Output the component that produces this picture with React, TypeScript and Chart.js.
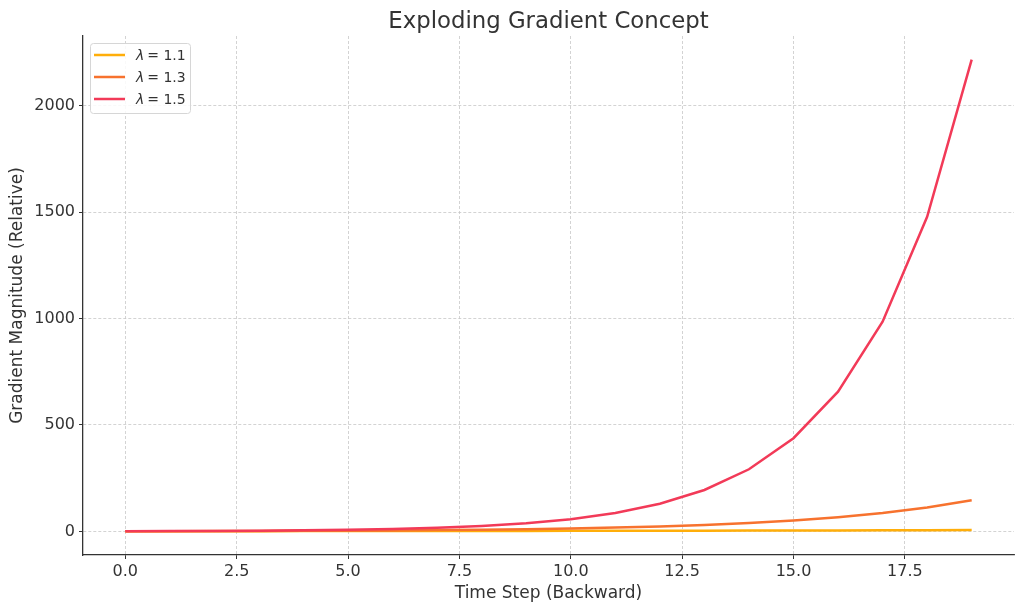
import React, { useEffect, useRef } from "react";
import { Chart, registerables } from "chart.js";

Chart.register(...registerables);

const timeSteps = [0, 1, 2, 3, 4, 5, 6, 7, 8, 9, 10, 11, 12, 13, 14, 15, 16, 17, 18, 19];
const lambda11 = [1, 1.1, 1.21, 1.33, 1.46, 1.61, 1.77, 1.95, 2.14, 2.36, 2.59, 2.85, 3.14, 3.45, 3.8, 4.18, 4.59, 5.05, 5.56, 6.12];
const lambda13 = [1, 1.3, 1.69, 2.2, 2.86, 3.71, 4.83, 6.27, 8.16, 10.6, 13.79, 17.92, 23.3, 30.29, 39.37, 51.19, 66.54, 86.5, 112.46, 146.19];
const lambda15 = [1, 1.5, 2.25, 3.38, 5.06, 7.59, 11.39, 17.09, 25.63, 38.44, 57.67, 86.5, 129.75, 194.62, 291.93, 437.89, 656.84, 985.26, 1477.89, 2216.84];
const seriesLabels = ["1.1", "1.3", "1.5"];
const seriesColors = ["#FFAE0A", "#F7722E", "#F23A58"];
const xTickValues = [0, 2.5, 5, 7.5, 10, 12.5, 15, 17.5];
const yTickValues = [0, 500, 1000, 1500, 2000];
const titleText = "Exploding Gradient Concept";
const xTitle = "Time Step (Backward)";
const yTitle = "Gradient Magnitude (Relative)";

const FONT = "'DejaVu Sans', sans-serif";
const TEXT = "#333333";

const overlayPlugin = {
  id: "overlay",
  afterDraw(chart: any) {
    const ctx = chart.ctx;
    const area = chart.chartArea;
    ctx.save();
    // title
    ctx.fillStyle = TEXT;
    ctx.font = `22.8px ${FONT}`;
    ctx.textAlign = "center";
    ctx.textBaseline = "alphabetic";
    ctx.fillText(titleText, (area.left + area.right) / 2, 28);
    // legend
    const bx = 90.5, by = 43.5, bw = 100, bh = 70, r = 3;
    ctx.beginPath();
    ctx.moveTo(bx + r, by);
    ctx.lineTo(bx + bw - r, by);
    ctx.quadraticCurveTo(bx + bw, by, bx + bw, by + r);
    ctx.lineTo(bx + bw, by + bh - r);
    ctx.quadraticCurveTo(bx + bw, by + bh, bx + bw - r, by + bh);
    ctx.lineTo(bx + r, by + bh);
    ctx.quadraticCurveTo(bx, by + bh, bx, by + bh - r);
    ctx.lineTo(bx, by + r);
    ctx.quadraticCurveTo(bx, by, bx + r, by);
    ctx.closePath();
    ctx.fillStyle = "rgba(255,255,255,0.85)";
    ctx.fill();
    ctx.strokeStyle = "#d6d6d6";
    ctx.lineWidth = 1;
    ctx.stroke();
    seriesLabels.forEach((lab, i) => {
      const y = 55 + i * 22;
      ctx.strokeStyle = seriesColors[i];
      ctx.lineWidth = 2.5;
      ctx.beginPath();
      ctx.moveTo(94, y);
      ctx.lineTo(125, y);
      ctx.stroke();
      ctx.fillStyle = TEXT;
      ctx.textAlign = "left";
      ctx.textBaseline = "middle";
      ctx.font = `italic 14px ${FONT}`;
      ctx.fillText("λ", 136, y + 1);
      const w = ctx.measureText("λ").width;
      ctx.font = `14px ${FONT}`;
      ctx.fillText("= " + lab, 136 + w + 3, y + 1);
    });
    ctx.restore();
  },
};

const gridOpts = {
  color: "#c8c8c8",
  lineWidth: 0.8,
  drawTicks: true,
  tickLength: 4,
  tickColor: "#333",
  tickWidth: 1,
  tickBorderDash: [],
};

export default function App() {
  const ref = useRef<HTMLCanvasElement | null>(null);
  useEffect(() => {
    document.body.style.margin = "0";
    const canvas = ref.current!;
    const makeData = (arr: number[]) => arr.map((v, i) => ({ x: timeSteps[i], y: v }));
    const sets = [lambda11, lambda13, lambda15];
    const chart = new Chart(canvas, {
      type: "line",
      data: {
        datasets: sets.map((arr, i) => ({
          label: "λ = " + seriesLabels[i],
          data: makeData(arr),
          borderColor: seriesColors[i],
          backgroundColor: seriesColors[i],
          borderWidth: 2.5,
          pointRadius: 0,
          tension: 0,
          order: 3 - i,
        })),
      },
      options: {
        animation: false,
        responsive: false,
        maintainAspectRatio: false,
        devicePixelRatio: 1,
        layout: { padding: { top: 36, right: 10, left: 0, bottom: 0 } },
        plugins: { legend: { display: false }, tooltip: { enabled: false }, title: { display: false } },
        scales: {
          x: {
            type: "linear",
            min: -0.95,
            max: 19.95,
            afterFit: (s: any) => { s.height = 56; },
            afterBuildTicks: (s: any) => { s.ticks = xTickValues.map((v) => ({ value: v })); },
            ticks: {
              autoSkip: false,
              maxRotation: 0,
              minRotation: 0,
              padding: 3,
              color: TEXT,
              font: { family: FONT, size: 16 },
              callback: (v: any) => Number(v).toFixed(1),
            },
            grid: gridOpts as any,
            border: { display: true, color: "#333", width: 1.3, dash: [3, 2] },
            title: {
              display: true,
              text: xTitle,
              color: TEXT,
              font: { family: FONT, size: 17 },
              padding: { top: 0, bottom: 7 },
            },
          },
          y: {
            type: "linear",
            min: -110.8,
            max: 2327.6,
            afterFit: (s: any) => { s.width = 83; },
            afterBuildTicks: (s: any) => { s.ticks = yTickValues.map((v) => ({ value: v })); },
            ticks: {
              autoSkip: false,
              padding: 4,
              color: TEXT,
              font: { family: FONT, size: 16 },
              callback: (v: any) => String(v),
            },
            grid: gridOpts as any,
            border: { display: true, color: "#333", width: 1.3, dash: [3, 2] },
            title: {
              display: true,
              text: yTitle,
              color: TEXT,
              font: { family: FONT, size: 17 },
              padding: { top: 7.3, bottom: 0 },
            },
          },
        },
      },
      plugins: [overlayPlugin],
    } as any);
    return () => chart.destroy();
  }, []);
  return (
    <div style={{ position: "absolute", left: 0, top: 0, width: 1024, height: 611 }}>
      <canvas ref={ref} width={1024} height={611} style={{ display: "block" }} />
    </div>
  );
}
